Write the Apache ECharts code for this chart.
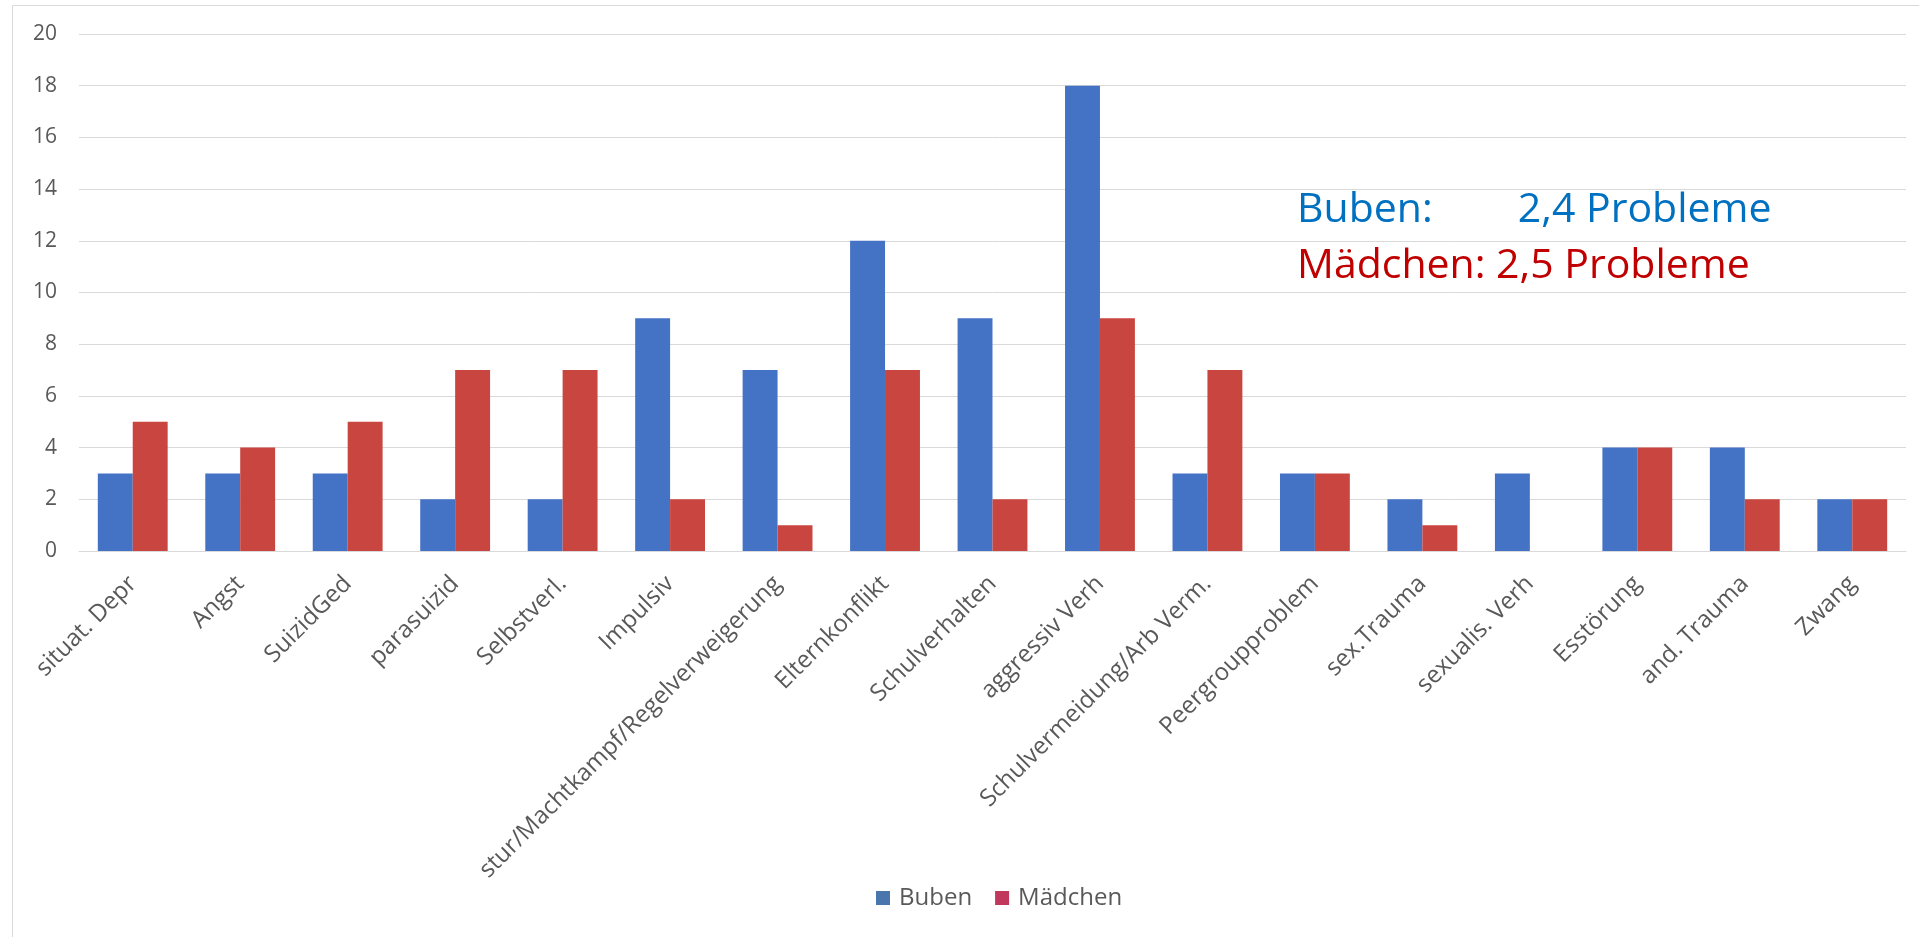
<!DOCTYPE html>
<html>
<head>
<meta charset="utf-8">
<script src="https://cdn.jsdelivr.net/npm/echarts@6/dist/echarts.min.js"></script>
<style>
html,body{margin:0;padding:0;background:#fff;}
#chart{width:1919px;height:937px;}
</style>
</head>
<body>
<div id="chart"></div>
<script>
const categories = ['situat. Depr','Angst','SuizidGed','parasuizid','Selbstverl.','Impulsiv','stur/Machtkampf/Regelverweigerung','Elternkonflikt','Schulverhalten','aggressiv Verh','Schulvermeidung/Arb Verm.','Peergroupproblem','sex.Trauma','sexualis. Verh','Esstörung','and. Trauma','Zwang'];
const buben   = [3,3,3,2,2,9,7,12,9,18,3,3,2,3,4,4,2];
const maedchen = [5,4,5,7,7,2,1,7,2,9,7,3,1,0,4,2,2];
const seriesNames = ['Buben','Mädchen'];
const noteBuben = 'Buben:        2,4 Probleme';
const noteMaedchen = 'Mädchen: 2,5 Probleme';

const chart = echarts.init(document.getElementById('chart'));
const FONT = 'Open Sans';
chart.setOption({
  animation:false,
  backgroundColor:'#fff',
  textStyle:{fontFamily:FONT},
  grid:{left:79,right:13,top:34,height:517,containLabel:false},
  legend:{
    top:881,left:871,itemWidth:14,itemHeight:14,itemGap:23,icon:'rect',
    textStyle:{color:'#595959',fontSize:24,fontFamily:FONT,padding:[0,0,0,4]},
    data:[{name:seriesNames[0],itemStyle:{color:'#4A76AE'}},{name:seriesNames[1],itemStyle:{color:'#C0385C'}}]
  },
  xAxis:{
    type:'category',data:categories,
    axisLine:{lineStyle:{color:'#D9D9D9'}},
    axisTick:{show:false},
    axisLabel:{rotate:45,interval:0,color:'#595959',fontSize:24,fontFamily:FONT,margin:29}
  },
  yAxis:{
    type:'value',min:0,max:20,interval:2,
    axisLine:{show:false},axisTick:{show:false},
    splitLine:{lineStyle:{color:'#D9D9D9',width:1}},
    axisLabel:{color:'#595959',fontSize:21,fontFamily:FONT,margin:22}
  },
  series:[
    {name:seriesNames[0],type:'bar',data:buben,barGap:'0%',barCategoryGap:'35%',itemStyle:{color:'#4472C4'}},
    {name:seriesNames[1],type:'bar',data:maedchen,barGap:'0%',barCategoryGap:'35%',itemStyle:{color:'#C9453F'}}
  ],
  graphic:[
    {type:'rect',shape:{x:12.5,y:5.5,width:1920,height:940},style:{fill:'none',stroke:'#D9D9D9',lineWidth:1},silent:true,z:-1},
    {type:'text',left:1297,top:190,style:{text:noteBuben,fill:'#0070C0',font:'41px "Open Sans"'}},
    {type:'text',left:1297,top:246,style:{text:noteMaedchen,fill:'#C00000',font:'41px "Open Sans"'}}
  ]
});
</script>
</body>
</html>
